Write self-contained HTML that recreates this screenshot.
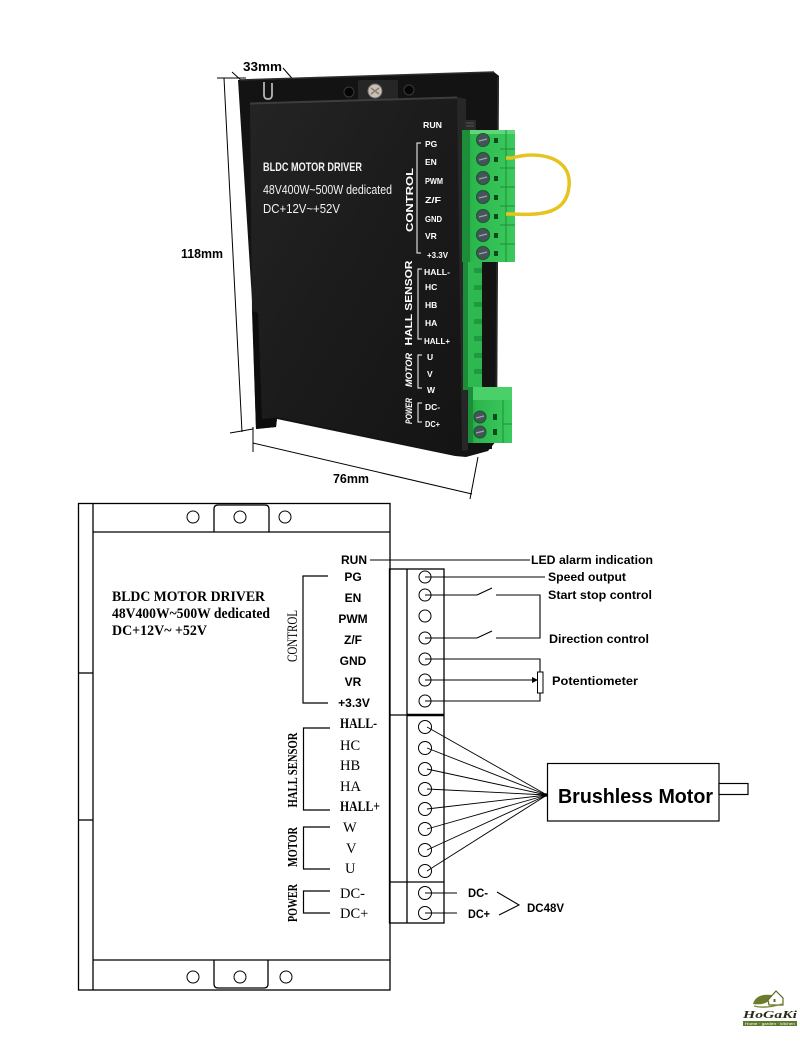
<!DOCTYPE html>
<html><head><meta charset="utf-8"><title>BLDC Motor Driver</title>
<style>
html,body{margin:0;padding:0;background:#fff;width:800px;height:1042px;overflow:hidden}
svg{display:block}
</style></head><body>
<svg width="800" height="1042" viewBox="0 0 800 1042" xmlns="http://www.w3.org/2000/svg" font-family="'Liberation Sans', sans-serif">
<defs>
<linearGradient id="cov" x1="0" y1="0" x2="1" y2="1">
<stop offset="0" stop-color="#242424"/><stop offset="0.5" stop-color="#1b1b1b"/><stop offset="1" stop-color="#141414"/>
</linearGradient>
<linearGradient id="grn" x1="0" y1="0" x2="1" y2="0">
<stop offset="0" stop-color="#1f9a3d"/><stop offset="0.2" stop-color="#2cb74d"/><stop offset="1" stop-color="#3bc95d"/>
</linearGradient>
</defs>

<!-- ============ PHOTO PART ============ -->
<g stroke="#000" stroke-width="1" fill="none">
<line x1="217" y1="78" x2="246" y2="78"/>
<line x1="224" y1="78" x2="242" y2="432"/>
<line x1="232" y1="72" x2="243" y2="82"/>
<line x1="283" y1="68" x2="297" y2="84"/>
<line x1="230" y1="433" x2="253" y2="429"/>
<line x1="253" y1="427" x2="253" y2="452"/>
<line x1="253" y1="443" x2="472" y2="494"/>
<line x1="478" y1="457" x2="470" y2="499"/>
</g>
<g font-weight="bold" font-size="12.5" fill="#000">
<text x="243" y="71" textLength="39" lengthAdjust="spacingAndGlyphs">33mm</text>
<text x="181" y="258" textLength="42" lengthAdjust="spacingAndGlyphs">118mm</text>
<text x="333" y="483" textLength="36" lengthAdjust="spacingAndGlyphs">76mm</text>
</g>

<!-- back plate -->
<polygon points="238,80 494,72 499,76 497,440 488,451 466,457 455,456 277,419 276,427 256,429 252,300" fill="#131313"/>
<line x1="240" y1="80" x2="494" y2="72" stroke="#2e2e2e" stroke-width="1.5"/>
<line x1="498" y1="77" x2="496" y2="440" stroke="#2a2a2a" stroke-width="1.5"/>
<path d="M264,82 V95 Q264,99 268,99 Q272,99 272,95 V83" fill="none" stroke="#b5b5b5" stroke-width="1.8"/>
<rect x="358" y="80" width="40" height="20" rx="2" fill="#262626"/>
<circle cx="375" cy="91" r="7" fill="#c9c2b4" stroke="#6f6f6f" stroke-width="1"/>
<path d="M371,88 L379,94 M379,88 L371,94" stroke="#8a7f6e" stroke-width="1.5"/>
<circle cx="349" cy="92" r="5" fill="#050505" stroke="#3a3a3a"/>
<circle cx="409" cy="90" r="5" fill="#050505" stroke="#3a3a3a"/>

<!-- cover -->
<polygon points="250,103 457,97 462,451 455,455 277,417 262,419 258,313 252,311" fill="url(#cov)"/>
<line x1="250" y1="103.5" x2="457" y2="97.5" stroke="#3d3d3d" stroke-width="2"/>
<polygon points="457,97 466,99 468,450 462,451" fill="#272727"/>
<polygon points="252,311 258,313 262,419 277,418 276,427 256,429" fill="#0d0d0d"/>

<g fill="#f2f2f2">
<text x="263" y="171" font-size="11.5" font-weight="bold" textLength="99" lengthAdjust="spacingAndGlyphs">BLDC MOTOR DRIVER</text>
<text x="263" y="194" font-size="12.5" textLength="129" lengthAdjust="spacingAndGlyphs">48V400W~500W dedicated</text>
<text x="263" y="213" font-size="12.5" textLength="77" lengthAdjust="spacingAndGlyphs">DC+12V~+52V</text>
</g>

<g fill="#fff" font-weight="bold" font-size="8.5">
<text x="423" y="128" textLength="19" lengthAdjust="spacingAndGlyphs">RUN</text>
<text x="425" y="147">PG</text>
<text x="425" y="165">EN</text>
<text x="425" y="184" textLength="18" lengthAdjust="spacingAndGlyphs">PWM</text>
<text x="425" y="203" textLength="16" lengthAdjust="spacingAndGlyphs">Z/F</text>
<text x="425" y="222" textLength="17" lengthAdjust="spacingAndGlyphs">GND</text>
<text x="425" y="239">VR</text>
<text x="427" y="258" textLength="21" lengthAdjust="spacingAndGlyphs">+3.3V</text>
<text x="424" y="275" textLength="26" lengthAdjust="spacingAndGlyphs">HALL-</text>
<text x="425" y="290">HC</text>
<text x="425" y="308">HB</text>
<text x="425" y="326">HA</text>
<text x="424" y="344" textLength="26" lengthAdjust="spacingAndGlyphs">HALL+</text>
<text x="427" y="360">U</text>
<text x="427" y="377">V</text>
<text x="427" y="393">W</text>
<text x="425" y="410" textLength="15" lengthAdjust="spacingAndGlyphs">DC-</text>
<text x="425" y="427" textLength="15" lengthAdjust="spacingAndGlyphs">DC+</text>
<text transform="translate(413,200) rotate(-90)" text-anchor="middle" font-size="10" textLength="64" lengthAdjust="spacingAndGlyphs">CONTROL</text>
<text transform="translate(412,303) rotate(-90)" text-anchor="middle" font-size="10" textLength="85" lengthAdjust="spacingAndGlyphs">HALL SENSOR</text>
<text transform="translate(412,370) rotate(-90)" text-anchor="middle" font-size="9.5" font-style="italic" textLength="34" lengthAdjust="spacingAndGlyphs">MOTOR</text>
<text transform="translate(412,411) rotate(-90)" text-anchor="middle" font-size="9" font-style="italic" textLength="26" lengthAdjust="spacingAndGlyphs">POWER</text>
</g>
<g stroke="#fff" stroke-width="1" fill="none">
<path d="M421,143 H417 V253 H421"/>
<path d="M422,269 H418 V339 H422"/>
<path d="M422,355 H418 V388 H422"/>
<path d="M422,403 H418 V422 H422"/>
</g>

<rect x="464" y="120" width="12" height="11" fill="#2a2a2a"/>
<path d="M466,123 H474 M466,126 H474" stroke="#555" stroke-width="1"/>

<!-- hall/motor green strip -->
<rect x="463" y="260" width="19" height="130" fill="#2fb84f"/>
<rect x="463" y="260" width="5" height="130" fill="#1d8c38"/>
<g fill="#1f9a3e">
<rect x="474" y="268" width="8" height="5"/><rect x="474" y="285" width="8" height="5"/>
<rect x="474" y="302" width="8" height="5"/><rect x="474" y="319" width="8" height="5"/>
<rect x="474" y="336" width="8" height="5"/><rect x="474" y="353" width="8" height="5"/>
<rect x="474" y="369" width="8" height="5"/>
</g>

<!-- control terminal -->
<rect x="462" y="130" width="53" height="132" fill="url(#grn)"/>
<rect x="462" y="130" width="53" height="4" fill="#5fd67a"/>
<rect x="462" y="130" width="8" height="132" fill="#1c8d38"/>
<g stroke="#1e8f3a" stroke-width="1">
<line x1="500" y1="149" x2="515" y2="149"/><line x1="500" y1="168" x2="515" y2="168"/>
<line x1="500" y1="187" x2="515" y2="187"/><line x1="500" y1="206" x2="515" y2="206"/>
<line x1="500" y1="225" x2="515" y2="225"/><line x1="500" y1="244" x2="515" y2="244"/>
<line x1="506" y1="130" x2="506" y2="262"/>
</g>
<g fill="#44545a" stroke="#175a28" stroke-width="1">
<circle cx="483" cy="140" r="6.5"/><circle cx="483" cy="159" r="6.5"/>
<circle cx="483" cy="178" r="6.5"/><circle cx="483" cy="197" r="6.5"/>
<circle cx="483" cy="216" r="6.5"/><circle cx="483" cy="235" r="6.5"/>
<circle cx="483" cy="253" r="6.5"/>
</g>
<g stroke="#9aa6a0" stroke-width="1.3">
<line x1="479" y1="141" x2="487" y2="139"/><line x1="479" y1="160" x2="487" y2="158"/>
<line x1="479" y1="179" x2="487" y2="177"/><line x1="479" y1="198" x2="487" y2="196"/>
<line x1="479" y1="217" x2="487" y2="215"/><line x1="479" y1="236" x2="487" y2="234"/>
<line x1="479" y1="254" x2="487" y2="252"/>
</g>
<g fill="#0f4a1c">
<rect x="494" y="138" width="4" height="5"/><rect x="494" y="157" width="4" height="5"/>
<rect x="494" y="176" width="4" height="5"/><rect x="494" y="195" width="4" height="5"/>
<rect x="494" y="214" width="4" height="5"/><rect x="494" y="233" width="4" height="5"/>
<rect x="494" y="251" width="4" height="5"/>
</g>

<path d="M506,158 L512,158 C540,150 572,158 569,186 C567,212 545,216 512,214 L506,214" fill="none" stroke="#e6c41f" stroke-width="3.5"/>

<!-- power terminal -->
<rect x="468" y="387" width="44" height="56" fill="url(#grn)"/>
<rect x="468" y="387" width="44" height="13" fill="#49d068"/>
<rect x="468" y="387" width="5" height="56" fill="#1c8d38"/>
<line x1="503" y1="400" x2="503" y2="443" stroke="#1e8f3a"/>
<line x1="503" y1="424" x2="512" y2="424" stroke="#1e8f3a"/>
<circle cx="480" cy="417" r="6" fill="#44545a" stroke="#175a28"/>
<circle cx="480" cy="432" r="6" fill="#44545a" stroke="#175a28"/>
<line x1="476" y1="418" x2="484" y2="416" stroke="#9aa6a0" stroke-width="1.3"/>
<line x1="476" y1="433" x2="484" y2="431" stroke="#9aa6a0" stroke-width="1.3"/>
<rect x="493" y="414" width="4" height="6" fill="#0f4a1c"/>
<rect x="493" y="429" width="4" height="6" fill="#0f4a1c"/>
<rect x="470" y="443" width="22" height="6" fill="#111"/>

<!-- ============ DIAGRAM PART ============ -->
<g stroke="#000" stroke-width="1.3" fill="none">
<rect x="78.5" y="503.5" width="311.5" height="486.5"/>
<line x1="93" y1="503.5" x2="93" y2="990"/>
<line x1="93" y1="532" x2="390" y2="532"/>
<line x1="93" y1="960" x2="390" y2="960"/>
<line x1="78.5" y1="673" x2="93" y2="673"/>
<line x1="78.5" y1="820" x2="93" y2="820"/>
<path d="M214,532 V509 Q214,505 218,505 H265 Q269,505 269,509 V532"/>
<path d="M214,960 V984 Q214,988 218,988 H264 Q268,988 268,984 V960"/>
</g>
<g stroke="#000" stroke-width="1" fill="none">
<circle cx="193" cy="517" r="6"/><circle cx="240" cy="517" r="6"/><circle cx="285" cy="517" r="6"/>
<circle cx="193" cy="977" r="6"/><circle cx="240" cy="977" r="6"/><circle cx="286" cy="977" r="6"/>
</g>

<g font-family="'Liberation Serif', serif" font-weight="bold" font-size="14.5" fill="#000">
<text x="112" y="601" textLength="153" lengthAdjust="spacingAndGlyphs">BLDC MOTOR DRIVER</text>
<text x="112" y="618" textLength="158" lengthAdjust="spacingAndGlyphs">48V400W~500W dedicated</text>
<text x="112" y="635" textLength="95" lengthAdjust="spacingAndGlyphs">DC+12V~ +52V</text>
</g>

<g stroke="#000" stroke-width="1.3" fill="none">
<rect x="389.5" y="569" width="54.5" height="354"/>
<line x1="407" y1="569" x2="407" y2="923"/>
<line x1="389.5" y1="715" x2="444" y2="715"/>
<line x1="407" y1="715" x2="444" y2="715" stroke-width="2.5"/>
<line x1="389.5" y1="882" x2="444" y2="882"/>
</g>
<g stroke="#000" stroke-width="1" fill="#fff">
<circle cx="425" cy="577" r="6"/><circle cx="425" cy="595" r="6"/><circle cx="425" cy="616" r="6"/>
<circle cx="425" cy="638" r="6"/><circle cx="425" cy="659" r="6"/><circle cx="425" cy="680" r="6"/>
<circle cx="425" cy="701" r="6"/>
<circle cx="425" cy="727" r="6.5"/><circle cx="425" cy="748" r="6.5"/><circle cx="425" cy="769" r="6.5"/>
<circle cx="425" cy="789" r="6.5"/><circle cx="425" cy="809" r="6.5"/><circle cx="425" cy="829" r="6.5"/>
<circle cx="425" cy="850" r="6.5"/><circle cx="425" cy="871" r="6.5"/>
<circle cx="425" cy="893" r="6.5"/><circle cx="425" cy="913" r="6.5"/>
</g>

<g font-weight="bold" font-size="12" fill="#000" text-anchor="middle">
<text x="354" y="564">RUN</text>
<text x="353" y="581">PG</text>
<text x="353" y="602">EN</text>
<text x="353" y="623">PWM</text>
<text x="353" y="644">Z/F</text>
<text x="353" y="665">GND</text>
<text x="353" y="686">VR</text>
<text x="354" y="707">+3.3V</text>
</g>
<g stroke="#000" stroke-width="1.2" fill="none">
<path d="M328,576 H303 V703 H328"/>
<path d="M330,728 H303.5 V810 H330"/>
<path d="M330,827 H303.5 V869 H330"/>
<path d="M330,891 H303.5 V913 H330"/>
</g>
<g font-family="'Liberation Serif', serif" fill="#000">
<text transform="translate(297,636) rotate(-90)" text-anchor="middle" font-size="15" textLength="52" lengthAdjust="spacingAndGlyphs">CONTROL</text>
<text transform="translate(297,770) rotate(-90)" text-anchor="middle" font-size="13.5" font-weight="bold" textLength="75" lengthAdjust="spacingAndGlyphs">HALL SENSOR</text>
<text transform="translate(297,847) rotate(-90)" text-anchor="middle" font-size="13.5" font-weight="bold" textLength="40" lengthAdjust="spacingAndGlyphs">MOTOR</text>
<text transform="translate(297,903) rotate(-90)" text-anchor="middle" font-size="13.5" font-weight="bold" textLength="38" lengthAdjust="spacingAndGlyphs">POWER</text>
<g font-size="14.5">
<text x="340" y="728" font-weight="bold" textLength="37" lengthAdjust="spacingAndGlyphs">HALL-</text>
<text x="340" y="750">HC</text>
<text x="340" y="770">HB</text>
<text x="340" y="791">HA</text>
<text x="340" y="811" font-weight="bold" textLength="40" lengthAdjust="spacingAndGlyphs">HALL+</text>
<text x="343" y="832">W</text>
<text x="346" y="853">V</text>
<text x="345" y="873">U</text>
<text x="340" y="898">DC-</text>
<text x="340" y="918">DC+</text>
</g>
</g>

<g stroke="#000" stroke-width="1.1" fill="none">
<line x1="370" y1="560" x2="530" y2="560"/>
<line x1="425" y1="577" x2="545" y2="577"/>
<line x1="425" y1="595" x2="477" y2="595"/>
<line x1="477" y1="595" x2="492" y2="588"/>
<polyline points="496,595 540,595 540,638 496,638"/>
<line x1="425" y1="638" x2="477" y2="638"/>
<line x1="477" y1="638" x2="492" y2="631"/>
<polyline points="425,659 540,659 540,701 425,701"/>
<line x1="425" y1="680" x2="534" y2="680"/>
</g>
<rect x="537.5" y="672" width="5.5" height="21" fill="#fff" stroke="#000" stroke-width="1"/>
<polygon points="532,677 538,680 532,683" fill="#000"/>
<g font-weight="bold" font-size="12" fill="#000">
<text x="531" y="564" textLength="122" lengthAdjust="spacingAndGlyphs">LED alarm indication</text>
<text x="548" y="581" textLength="78" lengthAdjust="spacingAndGlyphs">Speed output</text>
<text x="548" y="599" textLength="104" lengthAdjust="spacingAndGlyphs">Start stop control</text>
<text x="549" y="643" textLength="100" lengthAdjust="spacingAndGlyphs">Direction control</text>
<text x="552" y="685" textLength="86" lengthAdjust="spacingAndGlyphs">Potentiometer</text>
</g>

<g stroke="#000" stroke-width="0.9">
<line x1="427" y1="727" x2="547" y2="795"/>
<line x1="427" y1="748" x2="547" y2="795"/>
<line x1="427" y1="769" x2="547" y2="795"/>
<line x1="427" y1="789" x2="547" y2="795"/>
<line x1="427" y1="809" x2="547" y2="795"/>
<line x1="427" y1="829" x2="547" y2="795"/>
<line x1="427" y1="850" x2="547" y2="795"/>
<line x1="427" y1="871" x2="547" y2="795"/>
</g>
<circle cx="546" cy="795" r="1.8" fill="#000"/>
<rect x="547.5" y="763.5" width="171.5" height="57.5" fill="#fff" stroke="#000" stroke-width="1.2"/>
<rect x="719" y="783.5" width="29" height="11" fill="#fff" stroke="#000" stroke-width="1.2"/>
<text x="558" y="803" font-weight="bold" font-size="20" textLength="155" lengthAdjust="spacingAndGlyphs">Brushless Motor</text>

<g stroke="#000" stroke-width="1.1" fill="none">
<line x1="425" y1="893" x2="457" y2="893"/>
<line x1="425" y1="913" x2="457" y2="913"/>
<polyline points="497,892 519,905 499,915"/>
</g>
<g font-weight="bold" font-size="12" fill="#000">
<text x="468" y="897" textLength="20" lengthAdjust="spacingAndGlyphs">DC-</text>
<text x="468" y="918" textLength="22" lengthAdjust="spacingAndGlyphs">DC+</text>
<text x="527" y="912" textLength="37" lengthAdjust="spacingAndGlyphs">DC48V</text>
</g>

<!-- logo -->
<path d="M753,1004 Q756,993 772,995 Q769,1006 753,1004 Z" fill="#6b7d2c"/>
<path d="M768,1000 L776,991 L783,998 V1005 H769 Z" fill="#fff" stroke="#5c6b22" stroke-width="1.2"/>
<rect x="773.5" y="999" width="2" height="3" fill="#5c6b22"/>
<path d="M754,1006 Q765,1009 782,1004" fill="none" stroke="#7c8f34" stroke-width="1.4"/>
<text x="743" y="1018" font-family="'Liberation Serif', serif" font-weight="bold" font-style="italic" font-size="10.5" fill="#2a2a1a" textLength="54" lengthAdjust="spacingAndGlyphs">HoGaKi</text>
<rect x="743" y="1021" width="54" height="5" fill="#5f7a2a"/>
<text x="745" y="1025" font-size="3.6" fill="#fff" textLength="50" lengthAdjust="spacingAndGlyphs">Home · garden · kitchen</text>
</svg>
</body></html>
